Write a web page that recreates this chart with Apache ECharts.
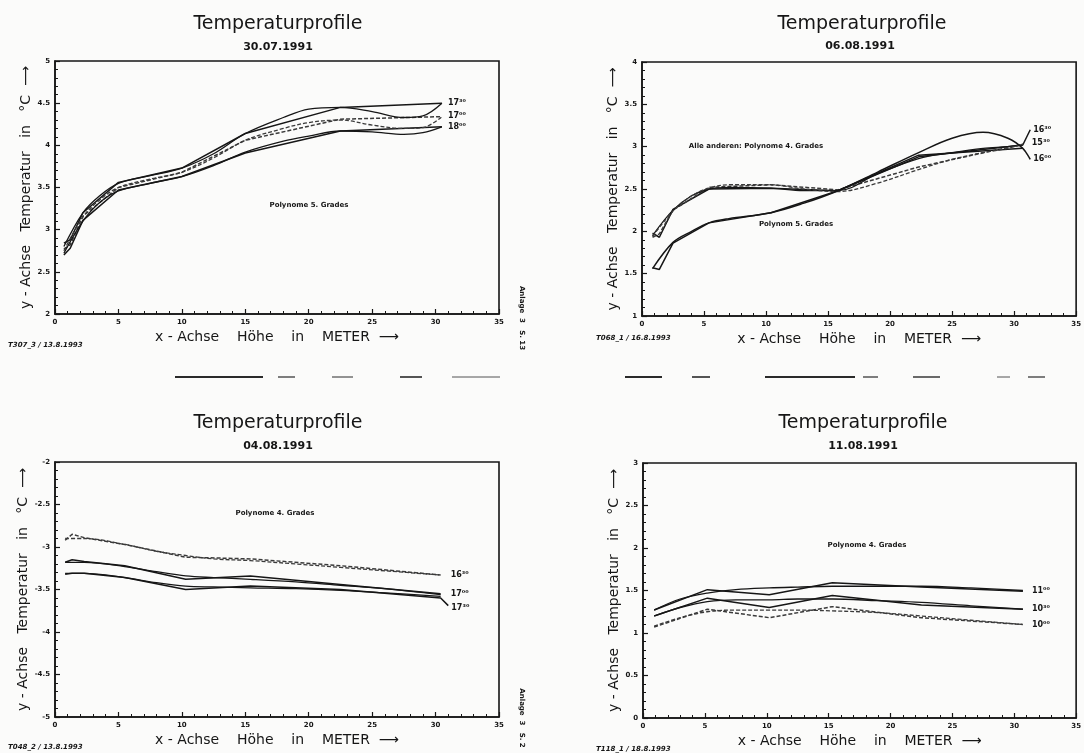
<!DOCTYPE html>
<html>
<head>
<meta charset="utf-8">
<title>Temperaturprofile</title>
<script src="https://cdn.jsdelivr.net/npm/echarts@6/dist/echarts.min.js"></script>
<style>
  html, body { margin: 0; padding: 0; background: #fbfbfa; }
  #main { width: 1084px; height: 753px; }
</style>
</head>
<body>
<div id="main"></div>
<script>

// 30.07.1991
var hoehe1 = [0.7, 1.2, 2.2, 5.0, 10.0, 15.0, 22.5, 30.5];
var t1_1730 = [2.84, 2.88, 3.2, 3.56, 3.73, 4.14, 4.45, 4.5];
var t1_1700 = [2.77, 2.82, 3.16, 3.5, 3.68, 4.06, 4.31, 4.34];
var t1_1800 = [2.7, 2.78, 3.11, 3.47, 3.63, 3.91, 4.17, 4.22];
var fitX1 = [0.7, 2.2, 3.5, 5.0, 7.5, 10.0, 12.5, 15.0, 18.0, 20.0, 22.5, 25.0, 27.5, 29.0, 30.5];
var fit1_1730 = [2.8, 3.2, 3.4, 3.55, 3.64, 3.73, 3.9, 4.14, 4.33, 4.43, 4.45, 4.4, 4.33, 4.35, 4.5];
var fit1_1700 = [2.75, 3.15, 3.35, 3.5, 3.6, 3.68, 3.85, 4.06, 4.2, 4.27, 4.3, 4.24, 4.2, 4.21, 4.34];
var fit1_1800 = [2.72, 3.1, 3.32, 3.46, 3.55, 3.63, 3.76, 3.92, 4.05, 4.11, 4.17, 4.16, 4.13, 4.15, 4.22];
var namen1 = ['17³⁰', '17⁰⁰', '18⁰⁰'];

// 06.08.1991
var hoehe2 = [0.85, 1.4, 2.5, 5.4, 10.4, 15.8, 22.3, 30.7, 31.3];
var t2_1630 = [1.98, 1.93, 2.26, 2.5, 2.51, 2.48, 2.88, 3.02, 3.2];
var t2_1530 = [1.93, 1.97, 2.25, 2.52, 2.55, 2.49, 2.76, 3.03];
var t2_1600 = [1.57, 1.55, 1.86, 2.1, 2.22, 2.48, 2.9, 2.98];
var fitX2 = [0.85, 2.5, 4.0, 5.4, 7.0, 10.4, 13.0, 15.8, 19.0, 22.3, 25.0, 27.5, 29.5, 30.7, 31.3];
var fit2_1630 = [1.95, 2.25, 2.42, 2.5, 2.52, 2.51, 2.48, 2.48, 2.68, 2.86, 2.93, 2.98, 3.0, 3.02];
var fit2_1530 = [1.94, 2.24, 2.42, 2.51, 2.55, 2.55, 2.5, 2.47, 2.57, 2.73, 2.85, 2.93, 2.98, 3.03];
var fit2_1600 = [1.56, 1.87, 2.0, 2.1, 2.15, 2.22, 2.33, 2.48, 2.7, 2.93, 3.1, 3.17, 3.1, 2.98, 2.85];
var namen2 = ['16³⁰', '15³⁰', '16⁰⁰'];

// 04.08.1991
var hoehe3 = [0.8, 1.35, 2.3, 5.5, 10.3, 15.4, 22.5, 30.4, 31.0];
var t3_1630 = [-2.92, -2.85, -2.89, -2.97, -3.12, -3.14, -3.22, -3.33];
var t3_1700 = [-3.18, -3.15, -3.17, -3.22, -3.38, -3.34, -3.44, -3.55];
var t3_1730 = [-3.32, -3.31, -3.31, -3.36, -3.5, -3.46, -3.5, -3.6, -3.69];
var fitX3 = [0.8, 2.3, 5.5, 8.0, 10.3, 12.5, 15.4, 19.0, 22.5, 26.0, 30.4];
var fit3_1630 = [-2.9, -2.9, -2.97, -3.05, -3.1, -3.14, -3.16, -3.2, -3.24, -3.28, -3.33];
var fit3_1700 = [-3.18, -3.18, -3.23, -3.29, -3.34, -3.36, -3.38, -3.41, -3.45, -3.49, -3.56];
var fit3_1730 = [-3.31, -3.31, -3.36, -3.42, -3.46, -3.47, -3.48, -3.49, -3.51, -3.54, -3.58];
var namen3 = ['16³⁰', '17⁰⁰', '17³⁰'];

// 11.08.1991
var hoehe4 = [0.9, 5.2, 10.2, 15.3, 22.5, 30.7];
var t4_1100 = [1.27, 1.51, 1.45, 1.59, 1.54, 1.49];
var t4_1030 = [1.2, 1.41, 1.3, 1.44, 1.33, 1.28];
var t4_1000 = [1.07, 1.28, 1.18, 1.31, 1.18, 1.1];
var fitX4 = [0.9, 3.0, 5.2, 7.5, 10.2, 12.5, 15.3, 19.0, 22.5, 26.5, 30.7];
var fit4_1100 = [1.27, 1.4, 1.47, 1.51, 1.53, 1.54, 1.55, 1.55, 1.55, 1.53, 1.5];
var fit4_1030 = [1.2, 1.3, 1.37, 1.39, 1.39, 1.4, 1.4, 1.38, 1.36, 1.32, 1.28];
var fit4_1000 = [1.08, 1.18, 1.25, 1.27, 1.27, 1.27, 1.26, 1.24, 1.2, 1.15, 1.1];
var namen4 = ['11⁰⁰', '10³⁰', '10⁰⁰'];

var yBereich = [[2, 5], [1, 4], [-5, -2], [0, 3]];

var INK = '#161616';
var FONT = '"DejaVu Sans", sans-serif';

function zip(xs, ys) {
    return ys.map(function (y, i) { return [xs[i], y]; });
}

// eine Linie (Messwerte oder Polynom)
function linie(idx, daten, opt) {
    opt = opt || {};
    var s = {
        type: 'line',
        xAxisIndex: idx,
        yAxisIndex: idx,
        data: daten,
        showSymbol: false,
        smooth: opt.glatt ? 0.35 : false,
        animation: false,
        silent: true,
        lineStyle: {
            color: opt.gestrichelt ? '#3a3a3a' : INK,
            width: opt.breite || 1.5,
            type: opt.gestrichelt ? [4, 2] : 'solid'
        },
        z: 3
    };
    if (opt.label) {
        s.endLabel = {
            show: true,
            formatter: opt.label,
            distance: opt.abstand || 6,
            offset: [0, opt.dy || 0],
            fontFamily: FONT,
            fontSize: 8,
            fontWeight: 'bold',
            color: INK
        };
    }
    return s;
}

var grids = [
    {left: 55, top: 61, width: 444, height: 253},
    {left: 642, top: 62, width: 437, height: 254},
    {left: 55, top: 462, width: 444, height: 255},
    {left: 643, top: 463, width: 437, height: 255}
];

var xAxes = grids.map(function (g, i) {
    return {
        type: 'value', gridIndex: i, min: 0, max: 35, interval: 5,
        name: 'x - Achse    Höhe    in    METER  ⟶',
        nameLocation: 'middle', nameGap: 16,
        nameTextStyle: {fontFamily: FONT, fontSize: 14, color: INK},
        axisLine: {lineStyle: {color: INK, width: 1.5}},
        axisTick: {inside: true, length: 5, lineStyle: {color: INK, width: 1.2}},
        minorTick: {show: true, splitNumber: 5, length: 3, lineStyle: {color: INK, width: 1}},
        axisLabel: {fontFamily: FONT, fontSize: 7, fontWeight: 'bold', color: INK, margin: 5},
        splitLine: {show: false}
    };
});

var yAxes = grids.map(function (g, i) {
    return {
        type: 'value', gridIndex: i, min: yBereich[i][0], max: yBereich[i][1], interval: 0.5,
        name: 'y - Achse   Temperatur   in   °C  ⟶',
        nameLocation: 'middle', nameGap: 22, nameRotate: 90,
        nameTextStyle: {fontFamily: FONT, fontSize: 14, color: INK},
        axisLine: {lineStyle: {color: INK, width: 1.5}},
        axisTick: {inside: true, length: 5, lineStyle: {color: INK, width: 1.2}},
        minorTick: {show: true, splitNumber: 5, length: 3, lineStyle: {color: INK, width: 1}},
        axisLabel: {fontFamily: FONT, fontSize: 7, fontWeight: 'bold', color: INK, margin: 5},
        splitLine: {show: false}
    };
});

var series = [
    // 30.07.1991
    linie(0, zip(hoehe1, t1_1730), {label: namen1[0], abstand: 6}),
    linie(0, zip(hoehe1, t1_1700), {gestrichelt: true, label: namen1[1], abstand: 6, dy: -1}),
    linie(0, zip(hoehe1, t1_1800), {label: namen1[2], abstand: 6}),
    linie(0, zip(fitX1, fit1_1730), {glatt: true, breite: 1.3}),
    linie(0, zip(fitX1, fit1_1700), {glatt: true, gestrichelt: true, breite: 1.3}),
    linie(0, zip(fitX1, fit1_1800), {glatt: true, breite: 1.3}),
    // 06.08.1991
    linie(1, zip(hoehe2, t2_1630), {label: namen2[0], abstand: 3}),
    linie(1, zip(hoehe2, t2_1530), {gestrichelt: true, label: namen2[1], abstand: 9, dy: -1}),
    linie(1, zip(hoehe2, t2_1600), {}),
    linie(1, zip(fitX2, fit2_1630), {glatt: true, breite: 1.3}),
    linie(1, zip(fitX2, fit2_1530), {glatt: true, gestrichelt: true, breite: 1.3}),
    linie(1, zip(fitX2, fit2_1600), {glatt: true, breite: 1.5, label: namen2[2], abstand: 3}),
    // 04.08.1991
    linie(2, zip(hoehe3, t3_1630), {gestrichelt: true, label: namen3[0], abstand: 10}),
    linie(2, zip(hoehe3, t3_1700), {label: namen3[1], abstand: 10}),
    linie(2, zip(hoehe3, t3_1730), {label: namen3[2], abstand: 3, dy: 2}),
    linie(2, zip(fitX3, fit3_1630), {glatt: true, gestrichelt: true, breite: 1.3}),
    linie(2, zip(fitX3, fit3_1700), {glatt: true, breite: 1.3}),
    linie(2, zip(fitX3, fit3_1730), {glatt: true, breite: 1.3}),
    // 11.08.1991
    linie(3, zip(hoehe4, t4_1100), {label: namen4[0], abstand: 9}),
    linie(3, zip(hoehe4, t4_1030), {label: namen4[1], abstand: 9}),
    linie(3, zip(hoehe4, t4_1000), {gestrichelt: true, label: namen4[2], abstand: 9}),
    linie(3, zip(fitX4, fit4_1100), {glatt: true, breite: 1.3}),
    linie(3, zip(fitX4, fit4_1030), {glatt: true, breite: 1.3}),
    linie(3, zip(fitX4, fit4_1000), {glatt: true, gestrichelt: true, breite: 1.3})
];

function text(x, y, str, font, opt) {
    opt = opt || {};
    return {
        type: 'text', x: x, y: y, rotation: opt.rot || 0, silent: true,
        style: {
            text: str, font: font, fill: opt.fill || INK,
            textAlign: opt.align || 'center', align: opt.align || 'center',
            textVerticalAlign: 'middle', verticalAlign: 'middle'
        }
    };
}

var TITEL = '19px ' + FONT;
var DATUM = 'bold 11px ' + FONT;
var KLEIN = 'bold 7px ' + FONT;
var FUSS = 'italic bold 7px ' + FONT;

var beschriftung = [
    text(278, 24, 'Temperaturprofile', TITEL),
    text(278, 47, '30.07.1991', DATUM),
    text(862, 24, 'Temperaturprofile', TITEL),
    text(860, 46, '06.08.1991', DATUM),
    text(278, 423, 'Temperaturprofile', TITEL),
    text(278, 446, '04.08.1991', DATUM),
    text(863, 423, 'Temperaturprofile', TITEL),
    text(863, 446, '11.08.1991', DATUM),

    text(309, 205, 'Polynome 5. Grades', KLEIN),
    text(756, 146, 'Alle anderen: Polynome 4. Grades', KLEIN),
    text(796, 224, 'Polynom 5. Grades', KLEIN),
    text(275, 513, 'Polynome 4. Grades', KLEIN),
    text(867, 545, 'Polynome 4. Grades', KLEIN),

    text(8, 345, 'T307_3 / 13.8.1993', FUSS, {align: 'left'}),
    text(596, 338, 'T068_1 / 16.8.1993', FUSS, {align: 'left'}),
    text(8, 747, 'T048_2 / 13.8.1993', FUSS, {align: 'left'}),
    text(596, 749, 'T118_1 / 18.8.1993', FUSS, {align: 'left'}),

    text(522, 318, 'Anlage  3   S. 13', KLEIN, {rot: -Math.PI / 2}),
    text(522, 718, 'Anlage  3   S. 2', KLEIN, {rot: -Math.PI / 2})
];

// Kopierkante zwischen den Blaettern
var kante = [[175, 263, 2.2], [278, 295, 1.2], [332, 353, 1], [400, 422, 1.6], [452, 500, 0.8],
             [625, 662, 2], [692, 710, 1.6], [765, 855, 2], [863, 878, 1.2], [913, 940, 1.4],
             [997, 1010, 0.8], [1028, 1045, 1.2]];
kante.forEach(function (k) {
    beschriftung.push({
        type: 'line', silent: true,
        shape: {x1: k[0], y1: 377, x2: k[1], y2: 377},
        style: {stroke: '#2a2a2a', lineWidth: k[2]}
    });
});

var chart = echarts.init(document.getElementById('main'));
chart.setOption({
    backgroundColor: '#fbfbfa',
    animation: false,
    grid: grids.map(function (g) {
        return Object.assign({show: true, borderColor: INK, borderWidth: 1.6, containLabel: false}, g);
    }),
    xAxis: xAxes,
    yAxis: yAxes,
    series: series,
    graphic: beschriftung
});
</script>
</body>
</html>
